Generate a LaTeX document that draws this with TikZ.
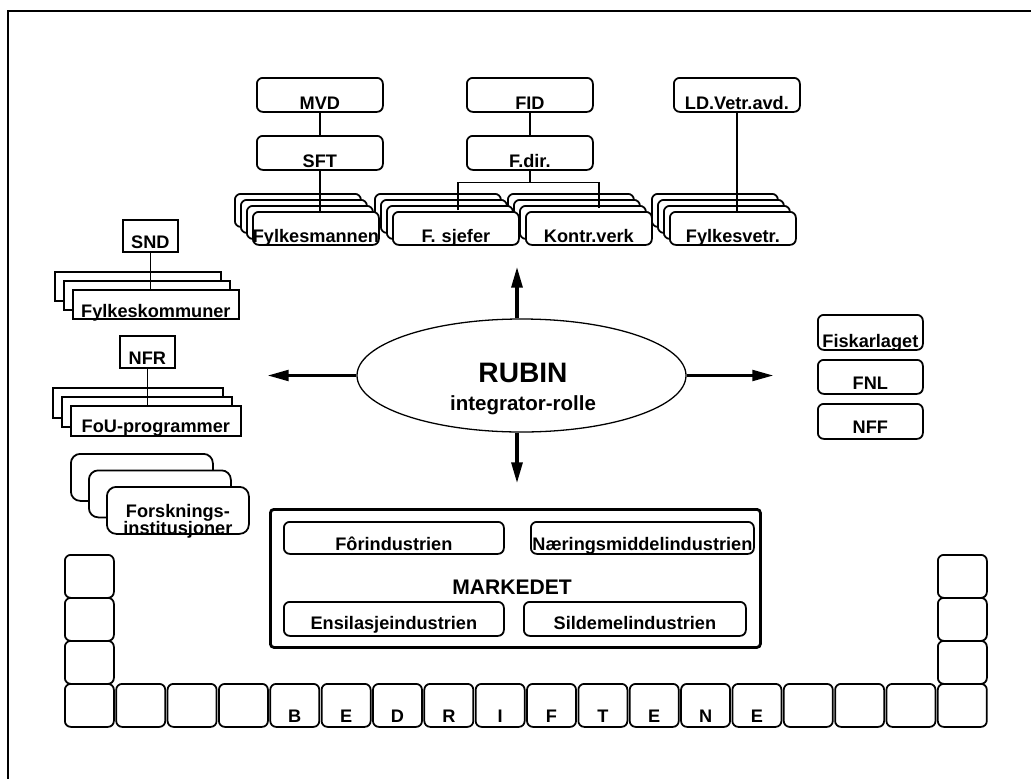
\documentclass[tikz,border=0pt]{standalone}
\usepackage{fontspec}
\setmainfont{Liberation Sans}
\usetikzlibrary{arrows.meta,shapes.geometric}

\tikzset{
  every node/.style={font=\bfseries\fontsize{15.5}{18}\selectfont},
  box/.style n args={3}{draw, line width=1.5pt, fill=white, anchor=north west, inner sep=0pt, align=center,
    text width=#1*0.03cm, text height=(#2-#3)*0.03cm, text depth=#3*0.03cm},
  rbox/.style n args={3}{box={#1}{#2}{#3}, rounded corners=5pt},
  link/.style={line width=1.1pt},
  spoke/.style={line width=1.8pt, -{Triangle[length=0.62cm,width=0.33cm]}},
}

\begin{document}
\begin{tikzpicture}[x=0.03cm,y=-0.03cm]
\useasboundingbox (0,0) rectangle (1031,778);
\draw[line width=1.6pt] (8,11) rectangle (1060,800);

% departementer og direktorater
\node[rbox={126}{34}{2}] (mvd) at (256,77) {MVD};
\node[rbox={126}{34}{2}] (sft) at (256,135) {SFT};
\node[rbox={126}{34}{2}] (fid) at (466,77) {FID};
\node[rbox={126}{34}{2}] (fdir) at (466,135) {F.dir.};
\node[rbox={126}{34}{2}] (ld) at (673,77) {LD.Vetr.avd.};

\foreach \i in {0,1,2}{
  \node[rbox={126}{33}{2}] (fm\i) at ({234+6*\i},{193+6*\i}) {};
  \node[rbox={126}{33}{2}] (fs\i) at ({374+6*\i},{193+6*\i}) {};
  \node[rbox={126}{33}{2}] (kv\i) at ({507+6*\i},{193+6*\i}) {};
  \node[rbox={126}{33}{2}] (fv\i) at ({651+6*\i},{193+6*\i}) {};
}
\node[rbox={126}{33}{2}] (fm3) at (252,211) {Fylkesmannen};
\node[rbox={126}{33}{2}] (fs3) at (392,211) {F. sjefer};
\node[rbox={126}{33}{2}] (kv3) at (525,211) {Kontr.verk};
\node[rbox={126}{33}{2}] (fv3) at (669,211) {Fylkesvetr.};

\draw[link] (mvd) -- (sft);
\draw[link] (sft.south) -- (sft.south |- fm3.north);
\draw[link] (fid) -- (fdir);
\draw[link] (fdir.south) -- ++(0,12) coordinate (fork);
\coordinate (fsTop) at (458,210);
\coordinate (kvTop) at (599,208);
\draw[link] (fsTop) |- (fork) -| (kvTop);
\draw[link] (ld.south) -- (ld.south |- fv3.north);

% venstre side
\node[box={55}{32}{3}] (snd) at (122,219) {SND};
\foreach \i in {0,1}
  \node[box={166}{29}{1}] (fk\i) at ({54+9*\i},{271+9*\i}) {};
\node[box={166}{29}{1}] (fk2) at (72,289) {Fylkeskommuner};
\draw[link] (snd.south) -- (snd.south |- fk2.north);

\node[box={55}{32}{3}] (nfr) at (119,335) {NFR};
\foreach \i in {0,1}
  \node[box={170}{30}{3}] (fou\i) at ({52+9*\i},{387+9*\i}) {};
\node[box={170}{30}{3}] (fou2) at (70,405) {FoU-programmer};
\draw[link] (nfr.south) -- (nfr.south |- fou2.north);

\foreach \i in {0,1}
  \node[rbox={142}{47}{16}, rounded corners=8pt] (fi\i) at ({70+18*\i},{453+16.5*\i}) {};
\node[rbox={142}{47}{16}, rounded corners=8pt] (fi2) at (106,486) {Forsknings-\\[-4pt]institusjoner};

% hoyre side
\node[rbox={105}{35}{2}] (fisk) at (817,314) {Fiskarlaget};
\node[rbox={105}{34}{4}] (fnl) at (817,359) {FNL};
\node[rbox={105}{35}{5}] (nff) at (817,403) {NFF};

% RUBIN
\node[draw, ellipse, line width=1.1pt, minimum width=329*0.03cm, minimum height=113*0.03cm, inner sep=0pt] (rubin) at (521.5,375.5) {};
\node[font=\bfseries\fontsize{24}{28}\selectfont, anchor=base] (rubinlbl) at (523,382) {RUBIN};
\node[font=\bfseries\fontsize{17.5}{20}\selectfont, anchor=base] (rolle) at (523,410) {integrator-rolle};

\coordinate (tipN) at (517,267);
\coordinate (tipS) at (517,483);
\coordinate (tipW) at (268,375.5);
\coordinate (tipE) at (773,375.5);
\draw[spoke, line width=2.6pt] (tipN |- rubin.north) -- (tipN);
\draw[spoke, line width=2.6pt] (tipS |- rubin.south) -- (tipS);
\draw[spoke] (rubin.west) -- (tipW);
\draw[spoke] (rubin.east) -- (tipE);

% markedet
\node[draw, line width=2.4pt, rounded corners=3pt, anchor=north west, minimum width=490*0.03cm, minimum height=138*0.03cm, inner sep=0pt] (market) at (269,508) {};
\node[rbox={220}{32}{3}] (forind) at (283,521) {Fôrindustrien};
\node[rbox={223}{32}{3}] (naering) at (530,521) {Næringsmiddelindustrien};
\node[font=\bfseries\fontsize{18}{21}\selectfont] (markedet) at (512,587) {MARKEDET};
\node[rbox={220}{34}{6}] (ensil) at (283,601) {Ensilasjeindustrien};
\node[rbox={222}{34}{6}] (sildemel) at (523,601) {Sildemelindustrien};

% bedriftene
\foreach \l [count=\i from 0] in {{},{},{},{},B,E,D,R,I,F,T,E,N,E,{},{},{},{}}
  \node[rbox={49}{43}{4}] (b\i) at ({64+51.35*\i},683) {\l};
\foreach \i in {0,1,2}{
  \node[rbox={49}{43}{4}] (lc\i) at (64,{554+43*\i}) {};
  \node[rbox={49}{43}{4}] (rc\i) at (937,{554+43*\i}) {};
}
\end{tikzpicture}
\end{document}
